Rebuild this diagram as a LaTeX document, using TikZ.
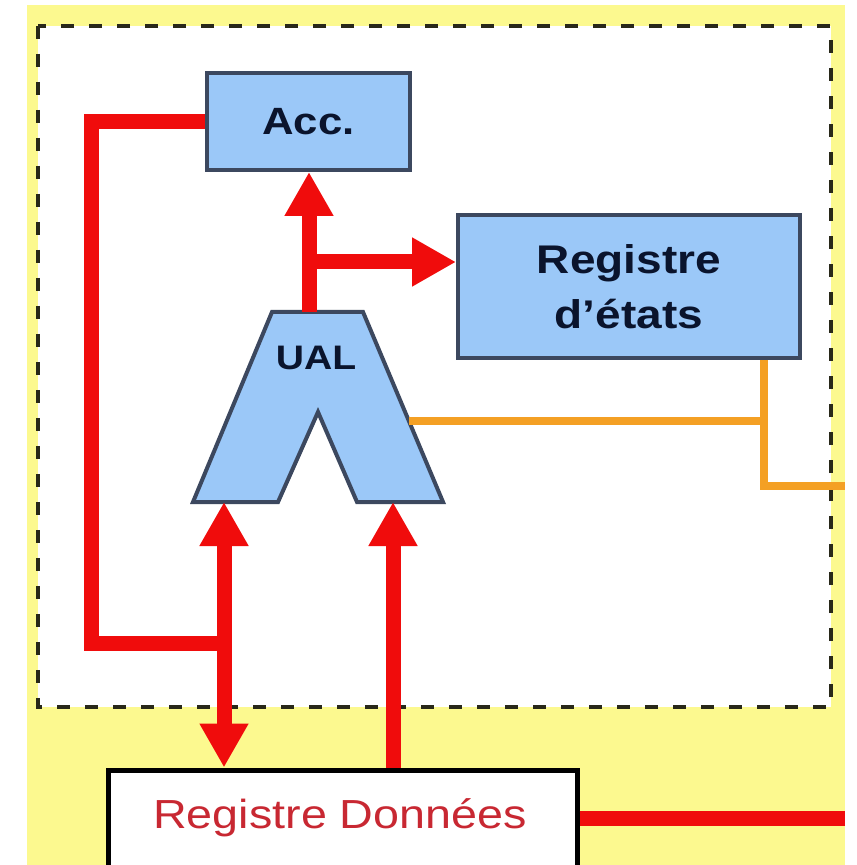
\documentclass[tikz,border=0pt]{standalone}
\usepackage{fontspec}
\newfontfamily\lab{Liberation Sans}[FakeStretch=1.15]
\usetikzlibrary{arrows.meta}

\definecolor{bgyellow}{RGB}{252,249,143}
\definecolor{boxblue}{RGB}{155,200,248}
\definecolor{boxedge}{RGB}{60,72,95}
\definecolor{boxtext}{RGB}{10,20,45}
\definecolor{busred}{RGB}{240,12,12}
\definecolor{flagorange}{RGB}{244,160,36}
\definecolor{datatext}{RGB}{200,40,50}
\definecolor{dashcol}{RGB}{40,40,25}

\tikzset{
  regbox/.style={draw=boxedge, line width=2pt, fill=boxblue, inner sep=0pt,
    text=boxtext, font=\lab\bfseries, align=center},
  bus/.style={draw=busred, line width=7.5pt},
  busarrow/.style={bus, -{Triangle[length=22pt,width=23pt]}},
  busboth/.style={bus, {Triangle[length=22pt,width=23pt]}-{Triangle[length=22pt,width=23pt]}},
  flagline/.style={draw=flagorange, line width=4pt},
}

\begin{document}
\begin{tikzpicture}[x=0.5pt,y=-0.5pt]
\useasboundingbox (0,0) rectangle (856,865);

% backgrounds: yellow panel and dashed processor frame
\fill[bgyellow] (27,5) rectangle (845,865);
\draw[fill=white, draw=dashcol, line width=2pt, dash pattern=on 6.5pt off 7.5pt]
  (38,26) rectangle (831,707);

% registers
\node[regbox, minimum width=101.5pt, minimum height=48.5pt,
  font=\lab\bfseries\fontsize{19}{22}\selectfont] (acc) at (308.5,121.5) {Acc.};
\node[regbox, minimum width=171pt, minimum height=71.5pt,
  font=\lab\bfseries\fontsize{20}{27.5}\selectfont] (etats) at (629,286.5) {Registre\\d’états};

% arithmetic and logic unit
\draw[draw=boxedge, line width=2pt, fill=boxblue, line join=miter]
  (272,312) -- (363,312) -- (443,502) -- (357,502) -- (318,412)
  -- (278,502) -- (193,502) -- cycle;
\node[text=boxtext, font=\lab\bfseries\fontsize{17}{20}\selectfont] (ual) at (316,358) {UAL};
\coordinate (ualtop) at (309,312);
\coordinate (fork) at (309,262);
\coordinate (ualinL) at (224,502);
\coordinate (ualinR) at (393,502);
\coordinate (ualR) at (409,421);

% data register (its lower edge runs past the page)
\node[draw=black, line width=2.5pt, fill=white, inner sep=0pt,
  minimum width=234.5pt, minimum height=70pt] (rd) at (342.5,840) {};
\node[text=datatext, font=\lab\fontsize{20.3}{24}\selectfont] (rdlabel) at (340,818) {Registre Données};

% free ends and bends
\coordinate (bend) at (91,643);
\coordinate (join) at (224,643);
\coordinate (tap) at (764,486);
\coordinate (flagout) at (845,486);
\coordinate (dataout) at (845,818);

% status flags
\draw[flagline] (ualR) -- (ualR -| tap);
\draw[flagline, line join=miter] (tap |- etats.south) -- (tap) -- (flagout);

% data buses
\draw[busarrow] (ualtop) -- (ualtop |- acc.south);
\draw[busarrow] (fork) -- (fork -| etats.west);
\draw[bus, line join=miter] (acc.west) -| (bend) -- (join);
\draw[busboth] (ualinL |- rd.north) -- (ualinL);
\draw[busarrow] (ualinR |- rd.north) -- (ualinR);
\draw[bus] (rdlabel -| rd.east) -- (dataout);
\end{tikzpicture}
\end{document}
